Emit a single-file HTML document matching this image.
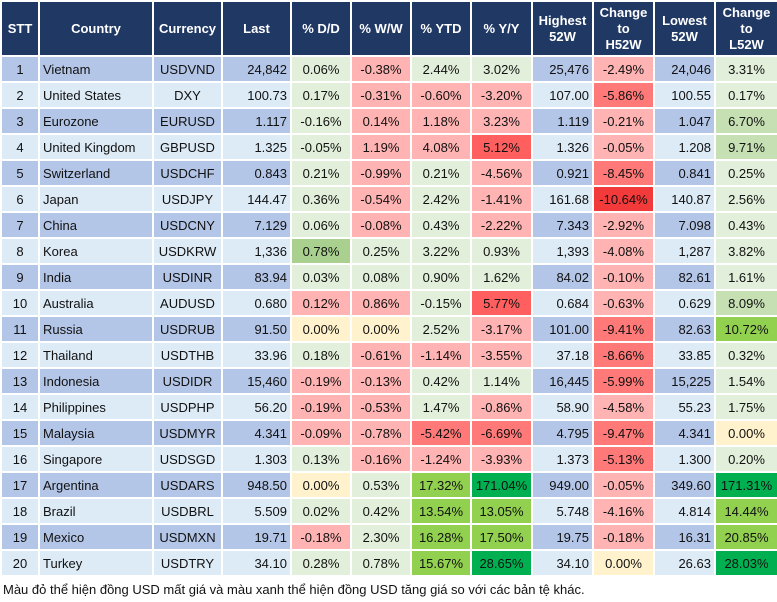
<!DOCTYPE html>
<html><head><meta charset="utf-8"><style>
body{margin:0;width:777px;height:602px;background:#fff;font-family:"Liberation Sans",Arial,sans-serif;overflow:hidden}
table{border-collapse:collapse;table-layout:fixed;width:777px;font-size:13px;color:#111}
td,th{border:2px solid #fff;padding:0 3px;height:24px;white-space:nowrap;overflow:hidden}
th{background:#203864;color:#fff;font-weight:bold;height:53px;text-align:center;font-size:13px;line-height:16px}
tr.o td{background:#b4c6e7}
tr.e td{background:#ddebf7}
td{text-align:center}
td.l{text-align:left}
td.n{text-align:right}
tr td.a{background:#e2efda}
tr td.r{background:#ffb3b3}
tr td.m{background:#ff7979}
tr td.s{background:#ff5f5f}
tr td.d{background:#f33a3a}
tr td.g1{background:#c6e0b4}
tr td.g2{background:#a9d08e}
tr td.g3{background:#92d050}
tr td.g4{background:#00b050}
tr td.y{background:#fff2cc}
.f{position:absolute;left:3px;top:582px;font-size:13px;color:#111}
</style></head><body>
<table>
<colgroup><col style="width:38px"><col style="width:114px"><col style="width:69px"><col style="width:69px"><col style="width:60px"><col style="width:60px"><col style="width:60px"><col style="width:61px"><col style="width:61px"><col style="width:61px"><col style="width:61px"><col style="width:63px"></colgroup>
<tr><th>STT</th><th>Country</th><th>Currency</th><th>Last</th><th>% D/D</th><th>% W/W</th><th>% YTD</th><th>% Y/Y</th><th>Highest<br>52W</th><th>Change<br>to<br>H52W</th><th>Lowest<br>52W</th><th>Change<br>to<br>L52W</th></tr>
<tr class="o"><td>1</td><td class="l">Vietnam</td><td>USDVND</td><td class="n">24,842</td><td class="a">0.06%</td><td class="r">-0.38%</td><td class="a">2.44%</td><td class="a">3.02%</td><td class="n">25,476</td><td class="r">-2.49%</td><td class="n">24,046</td><td class="a">3.31%</td></tr>
<tr class="e"><td>2</td><td class="l">United States</td><td>DXY</td><td class="n">100.73</td><td class="a">0.17%</td><td class="r">-0.31%</td><td class="r">-0.60%</td><td class="r">-3.20%</td><td class="n">107.00</td><td class="m">-5.86%</td><td class="n">100.55</td><td class="a">0.17%</td></tr>
<tr class="o"><td>3</td><td class="l">Eurozone</td><td>EURUSD</td><td class="n">1.117</td><td class="a">-0.16%</td><td class="r">0.14%</td><td class="r">1.18%</td><td class="r">3.23%</td><td class="n">1.119</td><td class="r">-0.21%</td><td class="n">1.047</td><td class="g1">6.70%</td></tr>
<tr class="e"><td>4</td><td class="l">United Kingdom</td><td>GBPUSD</td><td class="n">1.325</td><td class="a">-0.05%</td><td class="r">1.19%</td><td class="r">4.08%</td><td class="s">5.12%</td><td class="n">1.326</td><td class="r">-0.05%</td><td class="n">1.208</td><td class="g1">9.71%</td></tr>
<tr class="o"><td>5</td><td class="l">Switzerland</td><td>USDCHF</td><td class="n">0.843</td><td class="a">0.21%</td><td class="r">-0.99%</td><td class="a">0.21%</td><td class="r">-4.56%</td><td class="n">0.921</td><td class="m">-8.45%</td><td class="n">0.841</td><td class="a">0.25%</td></tr>
<tr class="e"><td>6</td><td class="l">Japan</td><td>USDJPY</td><td class="n">144.47</td><td class="a">0.36%</td><td class="r">-0.54%</td><td class="a">2.42%</td><td class="r">-1.41%</td><td class="n">161.68</td><td class="d">-10.64%</td><td class="n">140.87</td><td class="a">2.56%</td></tr>
<tr class="o"><td>7</td><td class="l">China</td><td>USDCNY</td><td class="n">7.129</td><td class="a">0.06%</td><td class="r">-0.08%</td><td class="a">0.43%</td><td class="r">-2.22%</td><td class="n">7.343</td><td class="r">-2.92%</td><td class="n">7.098</td><td class="a">0.43%</td></tr>
<tr class="e"><td>8</td><td class="l">Korea</td><td>USDKRW</td><td class="n">1,336</td><td class="g2">0.78%</td><td class="a">0.25%</td><td class="a">3.22%</td><td class="a">0.93%</td><td class="n">1,393</td><td class="r">-4.08%</td><td class="n">1,287</td><td class="a">3.82%</td></tr>
<tr class="o"><td>9</td><td class="l">India</td><td>USDINR</td><td class="n">83.94</td><td class="a">0.03%</td><td class="a">0.08%</td><td class="a">0.90%</td><td class="a">1.62%</td><td class="n">84.02</td><td class="r">-0.10%</td><td class="n">82.61</td><td class="a">1.61%</td></tr>
<tr class="e"><td>10</td><td class="l">Australia</td><td>AUDUSD</td><td class="n">0.680</td><td class="r">0.12%</td><td class="r">0.86%</td><td class="a">-0.15%</td><td class="s">5.77%</td><td class="n">0.684</td><td class="r">-0.63%</td><td class="n">0.629</td><td class="g1">8.09%</td></tr>
<tr class="o"><td>11</td><td class="l">Russia</td><td>USDRUB</td><td class="n">91.50</td><td class="y">0.00%</td><td class="y">0.00%</td><td class="a">2.52%</td><td class="r">-3.17%</td><td class="n">101.00</td><td class="m">-9.41%</td><td class="n">82.63</td><td class="g3">10.72%</td></tr>
<tr class="e"><td>12</td><td class="l">Thailand</td><td>USDTHB</td><td class="n">33.96</td><td class="a">0.18%</td><td class="r">-0.61%</td><td class="r">-1.14%</td><td class="r">-3.55%</td><td class="n">37.18</td><td class="m">-8.66%</td><td class="n">33.85</td><td class="a">0.32%</td></tr>
<tr class="o"><td>13</td><td class="l">Indonesia</td><td>USDIDR</td><td class="n">15,460</td><td class="r">-0.19%</td><td class="r">-0.13%</td><td class="a">0.42%</td><td class="a">1.14%</td><td class="n">16,445</td><td class="m">-5.99%</td><td class="n">15,225</td><td class="a">1.54%</td></tr>
<tr class="e"><td>14</td><td class="l">Philippines</td><td>USDPHP</td><td class="n">56.20</td><td class="r">-0.19%</td><td class="r">-0.53%</td><td class="a">1.47%</td><td class="r">-0.86%</td><td class="n">58.90</td><td class="r">-4.58%</td><td class="n">55.23</td><td class="a">1.75%</td></tr>
<tr class="o"><td>15</td><td class="l">Malaysia</td><td>USDMYR</td><td class="n">4.341</td><td class="r">-0.09%</td><td class="r">-0.78%</td><td class="m">-5.42%</td><td class="m">-6.69%</td><td class="n">4.795</td><td class="m">-9.47%</td><td class="n">4.341</td><td class="y">0.00%</td></tr>
<tr class="e"><td>16</td><td class="l">Singapore</td><td>USDSGD</td><td class="n">1.303</td><td class="a">0.13%</td><td class="r">-0.16%</td><td class="r">-1.24%</td><td class="r">-3.93%</td><td class="n">1.373</td><td class="m">-5.13%</td><td class="n">1.300</td><td class="a">0.20%</td></tr>
<tr class="o"><td>17</td><td class="l">Argentina</td><td>USDARS</td><td class="n">948.50</td><td class="y">0.00%</td><td class="a">0.53%</td><td class="g3">17.32%</td><td class="g4">171.04%</td><td class="n">949.00</td><td class="r">-0.05%</td><td class="n">349.60</td><td class="g4">171.31%</td></tr>
<tr class="e"><td>18</td><td class="l">Brazil</td><td>USDBRL</td><td class="n">5.509</td><td class="a">0.02%</td><td class="a">0.42%</td><td class="g3">13.54%</td><td class="g3">13.05%</td><td class="n">5.748</td><td class="r">-4.16%</td><td class="n">4.814</td><td class="g3">14.44%</td></tr>
<tr class="o"><td>19</td><td class="l">Mexico</td><td>USDMXN</td><td class="n">19.71</td><td class="r">-0.18%</td><td class="a">2.30%</td><td class="g3">16.28%</td><td class="g3">17.50%</td><td class="n">19.75</td><td class="r">-0.18%</td><td class="n">16.31</td><td class="g3">20.85%</td></tr>
<tr class="e"><td>20</td><td class="l">Turkey</td><td>USDTRY</td><td class="n">34.10</td><td class="a">0.28%</td><td class="a">0.78%</td><td class="g3">15.67%</td><td class="g4">28.65%</td><td class="n">34.10</td><td class="y">0.00%</td><td class="n">26.63</td><td class="g4">28.03%</td></tr>
</table>
<div class="f">Màu đỏ thể hiện đồng USD mất giá và màu xanh thể hiện đồng USD tăng giá so với các bản tệ khác.</div>
</body></html>
